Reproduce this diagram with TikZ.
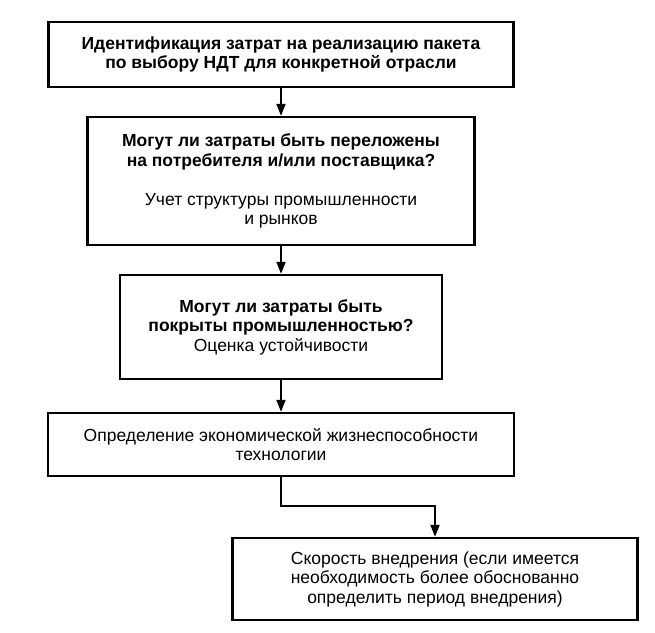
\documentclass[tikz,border=0pt]{standalone}
\usepackage{fontspec}
\setmainfont{Liberation Sans}
\usetikzlibrary{arrows.meta}
\tikzset{
  blk/.style={draw, line width=2.4pt, align=center, inner sep=0pt, font=\fontsize{17.5}{19.5}\selectfont},
  arr/.style={line width=2pt, -{Triangle[length=12pt,width=9pt]}}
}

\begin{document}
\begin{tikzpicture}[x=1pt,y=-1pt]
	\useasboundingbox [fill=white] (0,0) rectangle (655,632);
	\node [blk, minimum width=465pt, minimum height=65pt] (ident) at (281,54.5) {\textbf{Идентификация затрат на реализацию пакета}\\\textbf{по выбору НДТ для конкретной отрасли}};
	\node [blk, minimum width=387pt, minimum height=128pt] (shift) at (281,181) {\textbf{Могут ли затраты быть переложены}\\\textbf{на потребителя и/или поставщика?}\\[19.5pt]Учет структуры промышленности\\и рынков};
	\node [blk, minimum width=322pt, minimum height=104pt] (cover) at (281,327) {\textbf{Могут ли затраты быть}\\\textbf{покрыты промышленностью?}\\Оценка устойчивости};
	\node [blk, minimum width=466pt, minimum height=63pt] (viab) at (281,444.5) {Определение экономической жизнеспособности\\технологии};
	\node [blk, minimum width=405pt, minimum height=82pt] (speed) at (435,579) {Скорость внедрения (если имеется\\необходимость более обоснованно\\определить период внедрения)};
	\draw [arr] (ident) -- (shift);
	\draw [arr] (shift) -- (cover);
	\draw [arr] (cover) -- (viab);
	\draw [arr] (viab.south) -- ++(0,29) -| (speed.north); %先向下,再向右折到下一个框的上边
\end{tikzpicture}
\end{document}
